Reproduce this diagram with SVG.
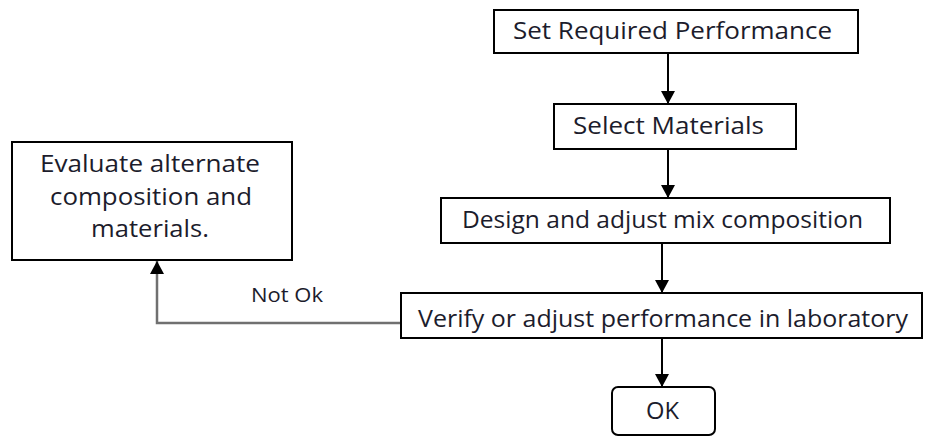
<svg xmlns="http://www.w3.org/2000/svg" width="938" height="437" viewBox="0 0 938 437">
  <style>
    .box { fill: #ffffff; stroke: #000000; stroke-width: 2; }
    .lbl { font-family: "Open Sans", "Liberation Sans", Arial, sans-serif; font-size: 23px; fill: #1c1c2c; text-anchor: middle; }
    .small { font-size: 20px; }
    .edge { fill: none; stroke: #000000; stroke-width: 2; }
    .back { fill: none; stroke: #707070; stroke-width: 2.5; }
  </style>
  <defs>
    <marker id="arrow" viewBox="0 0 13 14" refX="13" refY="7" markerWidth="13" markerHeight="14" markerUnits="userSpaceOnUse" orient="auto">
      <path d="M0,0 L13,7 L0,14 Z" fill="#000000"/>
    </marker>
  </defs>

  <!-- connectors -->
  <g id="connectors">
    <path class="edge" d="M668,53 L668,104" marker-end="url(#arrow)"/>
    <path class="edge" d="M668,149 L668,198" marker-end="url(#arrow)"/>
    <path class="edge" d="M662,243 L662,293" marker-end="url(#arrow)"/>
    <path class="edge" d="M662,338 L662,387" marker-end="url(#arrow)"/>
    <path class="back" d="M401,323 L157,323 L157,261" marker-end="url(#arrow)"/>
    <text class="lbl small" x="287" y="302" textLength="72" lengthAdjust="spacingAndGlyphs">Not Ok</text>
  </g>

  <g id="set-performance">
    <rect class="box" x="494" y="10" width="364" height="43"/>
    <text class="lbl" x="672.5" y="39" textLength="319" lengthAdjust="spacingAndGlyphs">Set Required Performance</text>
  </g>

  <g id="select-materials">
    <rect class="box" x="554" y="104" width="242" height="45"/>
    <text class="lbl" x="668.5" y="134" textLength="191" lengthAdjust="spacingAndGlyphs">Select Materials</text>
  </g>

  <g id="design-mix">
    <rect class="box" x="441" y="198" width="449" height="45"/>
    <text class="lbl" x="662.5" y="228" textLength="401" lengthAdjust="spacingAndGlyphs">Design and adjust mix composition</text>
  </g>

  <g id="verify-performance">
    <rect class="box" x="401" y="293" width="521" height="45"/>
    <text class="lbl" x="663" y="327" textLength="490" lengthAdjust="spacingAndGlyphs">Verify or adjust performance in laboratory</text>
  </g>

  <g id="ok">
    <rect class="box" x="612" y="387" width="103" height="48" rx="6" ry="6"/>
    <text class="lbl" x="662.5" y="419" textLength="33" lengthAdjust="spacingAndGlyphs">OK</text>
  </g>

  <g id="evaluate-alternate">
    <rect class="box" x="12" y="142" width="280" height="118"/>
    <text class="lbl" x="150" y="172" textLength="220" lengthAdjust="spacingAndGlyphs">Evaluate alternate</text>
    <text class="lbl" x="151" y="205" textLength="202" lengthAdjust="spacingAndGlyphs">composition and</text>
    <text class="lbl" x="150" y="237" textLength="118" lengthAdjust="spacingAndGlyphs">materials.</text>
  </g>
</svg>
